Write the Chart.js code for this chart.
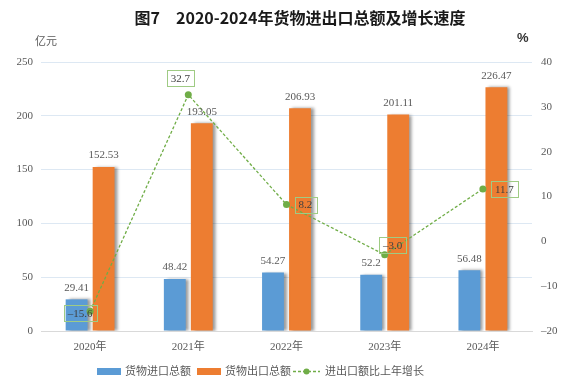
<!DOCTYPE html>
<html>
<head>
<meta charset="utf-8">
<script src="https://cdn.jsdelivr.net/npm/chart.js@4.4.1/dist/chart.umd.min.js"></script>
<style>
  html, body { margin: 0; padding: 0; background: #fff; }
  #wrap { width: 573px; height: 388px; position: relative; }
</style>
</head>
<body>
<div id="wrap"><canvas id="chart" width="573" height="388"></canvas></div>
<script>
// data
const years = ["2020年", "2021年", "2022年", "2023年", "2024年"];
const importTotal = [29.41, 48.42, 54.27, 52.2, 56.48];
const importText = ["29.41", "48.42", "54.27", "52.2", "56.48"];
const exportTotal = [152.53, 193.05, 206.93, 201.11, 226.47];
const growthRate = [-15.6, 32.7, 8.2, -3.0, 11.7];
const leftTicks = [0, 50, 100, 150, 200, 250];
const rightTicks = [-20, -10, 0, 10, 20, 30, 40];

const BLUE = "#5b9bd5";
const ORANGE = "#ed7d31";
const GREEN = "#70ad47";
const TEXT = "#595959";
const SERIF = "'Liberation Serif', 'DejaVu Serif', 'Noto Sans CJK SC', serif";
const CJK = "'Noto Sans CJK SC', sans-serif";

// where each growth label box sits relative to its point
const growthLabelPos = ["left", "top", "right", "topRight", "right"];

function fmtMinus(v) {
  return String(v).replace("-", "–");
}

const barShadow = {
  id: "barShadow",
  beforeDatasetDraw(chart, args) {
    if (args.meta.type !== "bar") return;
    const ctx = chart.ctx;
    ctx.save();
    ctx.shadowColor = "rgba(0,0,0,0.4)";
    ctx.shadowBlur = 3;
    ctx.shadowOffsetX = 3;
    ctx.shadowOffsetY = 0;
  },
  afterDatasetDraw(chart, args) {
    if (args.meta.type !== "bar") return;
    chart.ctx.restore();
  }
};

const labels = {
  id: "labels",
  afterDatasetsDraw(chart) {
    const ctx = chart.ctx;
    ctx.save();
    ctx.font = "11px " + SERIF;
    ctx.fillStyle = TEXT;
    ctx.textAlign = "center";
    ctx.textBaseline = "bottom";
    chart.getDatasetMeta(0).data.forEach((bar, i) => {
      ctx.fillText(importText[i], bar.x, bar.y - 6);
    });
    chart.getDatasetMeta(1).data.forEach((bar, i) => {
      ctx.fillText(exportTotal[i].toFixed(2), bar.x, bar.y - 6);
    });

    // boxed growth labels
    ctx.textBaseline = "middle";
    chart.getDatasetMeta(2).data.forEach((pt, i) => {
      const txt = fmtMinus(growthRate[i].toFixed(1));
      const w = ctx.measureText(txt).width + 8;
      const h = 16;
      let cx = pt.x, cy = pt.y;
      const pos = growthLabelPos[i];
      if (pos === "top") { cx = pt.x - 8; cy = pt.y - 17; }
      if (pos === "right") { cx = pt.x + 8 + w / 2; cy = pt.y; }
      if (pos === "left") { cx = pt.x - 10; cy = pt.y + 2; }
      if (pos === "topRight") { cx = pt.x + 8; cy = pt.y - 10; }
      ctx.strokeStyle = "#9fcb84";
      ctx.lineWidth = 1;
      ctx.strokeRect(Math.round(cx - w / 2) + 0.5, Math.round(cy - h / 2) + 0.5, Math.round(w), h);
      ctx.fillStyle = "#404040";
      ctx.textAlign = "center";
      ctx.fillText(txt, cx, cy + 1);
    });
    ctx.restore();
  },
  afterDraw(chart) {
    const ctx = chart.ctx;
    ctx.save();
    // title
    ctx.fillStyle = "#1a1a1a";
    ctx.font = "bold 16px " + CJK;
    ctx.textAlign = "center";
    ctx.textBaseline = "middle";
    ctx.fillText("图7　2020-2024年货物进出口总额及增长速度", 300, 18);
    // unit labels
    ctx.font = "11px " + CJK;
    ctx.fillStyle = TEXT;
    ctx.textAlign = "left";
    ctx.fillText("亿元", 35, 41);
    ctx.font = "bold 13px 'Liberation Sans', sans-serif";
    ctx.fillStyle = "#333";
    ctx.fillText("%", 517, 38);

    // legend
    const ly = 371;
    ctx.font = "11px " + CJK;
    ctx.textBaseline = "middle";
    ctx.fillStyle = BLUE;
    ctx.fillRect(97, ly - 3, 24, 7);
    ctx.fillStyle = TEXT;
    ctx.fillText("货物进口总额", 125, ly);
    ctx.fillStyle = ORANGE;
    ctx.fillRect(197, ly - 3, 24, 7);
    ctx.fillStyle = TEXT;
    ctx.fillText("货物出口总额", 225, ly);
    ctx.strokeStyle = GREEN;
    ctx.lineWidth = 1.5;
    ctx.setLineDash([3, 2]);
    ctx.beginPath();
    ctx.moveTo(293, ly + 0.5);
    ctx.lineTo(320, ly + 0.5);
    ctx.stroke();
    ctx.setLineDash([]);
    ctx.fillStyle = GREEN;
    ctx.beginPath();
    ctx.arc(306.5, ly + 0.5, 3, 0, Math.PI * 2);
    ctx.fill();
    ctx.fillStyle = TEXT;
    ctx.fillText("进出口额比上年增长", 325, ly);
    ctx.restore();
  }
};

new Chart(document.getElementById("chart"), {
  data: {
    labels: years,
    datasets: [
      {
        type: "bar", label: "货物进口总额", data: importTotal, yAxisID: "y",
        backgroundColor: BLUE, categoryPercentage: 0.55, barPercentage: 0.81, order: 2
      },
      {
        type: "bar", label: "货物出口总额", data: exportTotal, yAxisID: "y",
        backgroundColor: ORANGE, categoryPercentage: 0.55, barPercentage: 0.81, order: 2
      },
      {
        type: "line", label: "进出口额比上年增长", data: growthRate, yAxisID: "y1",
        borderColor: GREEN, backgroundColor: GREEN, borderWidth: 1.3, borderDash: [3, 2],
        pointRadius: 3.5, pointBackgroundColor: GREEN, pointBorderWidth: 0,
        tension: 0, order: 1
      }
    ]
  },
  options: {
    responsive: false,
    animation: false,
    devicePixelRatio: 1,
    layout: { padding: { top: 62, left: 0, right: 0, bottom: 0 } },
    plugins: { legend: { display: false }, tooltip: { enabled: false } },
    scales: {
      x: {
        grid: { display: false, drawTicks: false },
        border: { color: "#d9d9d9", width: 1 },
        ticks: { color: TEXT, font: { size: 11, family: SERIF }, padding: 10 },
        afterFit(scale) { scale.height = 57; }
      },
      y: {
        position: "left", min: 0, max: 250,
        afterBuildTicks(scale) { scale.ticks = leftTicks.map(v => ({ value: v })); },
        grid: { color: "#dde8f3", drawTicks: false },
        border: { display: false },
        ticks: { color: TEXT, font: { size: 11, family: SERIF }, padding: 8 },
        afterFit(scale) { scale.width = 41; }
      },
      y1: {
        position: "right", min: -20, max: 40,
        afterBuildTicks(scale) { scale.ticks = rightTicks.map(v => ({ value: v })); },
        grid: { display: false, drawTicks: false },
        border: { display: false },
        ticks: { color: TEXT, font: { size: 11, family: SERIF }, padding: 9, callback: v => fmtMinus(v) },
        afterFit(scale) { scale.width = 41; }
      }
    }
  },
  plugins: [barShadow, labels]
});
</script>
</body>
</html>
